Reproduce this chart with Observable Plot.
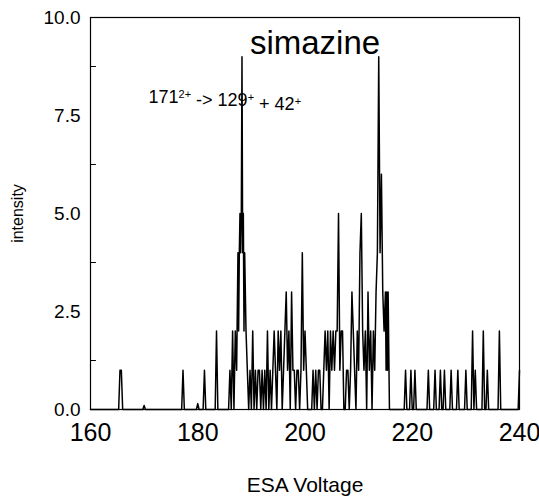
<!DOCTYPE html>
<html>
<head>
<meta charset="utf-8">
<script src="https://cdn.jsdelivr.net/npm/d3@7"></script>
<script src="https://cdn.jsdelivr.net/npm/@observablehq/plot@0.6"></script>
<style>
  html, body { margin: 0; padding: 0; background: #fff; }
</style>
</head>
<body>
<div id="chart"></div>
<script>
// ESA voltage (x) and intensity (y) samples
const voltage = [
  160, 165.25, 165.5, 165.75, 166.0, 169.75, 170.0, 170.25,
  177.0, 177.25, 177.5, 179.75, 180.0, 180.25, 181.0, 181.25, 181.5,
  183.25, 183.5, 183.75, 185.75,
  186.0, 186.25, 186.5, 186.75, 187.0, 187.25, 187.5, 187.625, 187.75, 187.875, 188.0, 188.125, 188.25, 188.375, 188.5, 188.625, 188.75,
  189.0, 189.25, 189.5, 189.75, 190.0, 190.25, 190.5, 190.75, 191.0, 191.25, 191.5, 191.75,
  192.0, 192.25, 192.5, 192.75, 193.0, 193.25, 193.5, 193.75, 194.0, 194.25, 194.5, 194.75,
  195.0, 195.25, 195.5, 195.75, 196.0, 196.25, 196.5, 196.75, 197.0, 197.25, 197.5, 197.75,
  198.0, 198.25, 198.5, 198.75, 199.0, 199.25, 199.5, 199.75, 200.0, 200.25, 200.5, 200.75,
  201.0, 201.25, 201.5, 201.75, 202.0, 202.25, 202.5, 202.75, 203.0, 203.25, 203.5, 203.75,
  204.0, 204.25, 204.5, 204.75, 205.0, 205.25, 205.5, 205.75, 206.0, 206.25, 206.5, 206.75,
  207.0, 207.25, 207.5, 207.75, 208.0, 208.25, 208.5, 208.75, 209.0, 209.25, 209.5, 209.75,
  210.0, 210.25, 210.5, 210.75, 211.0, 211.25, 211.5, 211.75, 212.0, 212.25, 212.5, 212.75,
  213.0, 213.25, 213.5, 213.75, 214.0, 214.25, 214.5, 214.75, 215.0, 215.125, 215.25, 215.375, 215.5, 215.75,
  218.5, 218.75, 219.0, 219.5, 219.75, 220.0, 220.25, 220.5, 220.75,
  222.75, 223.0, 223.25, 224.0, 224.25, 224.5, 225.0, 225.25, 225.5, 225.75, 226.0, 226.25,
  227.0, 227.25, 227.5, 228.25, 228.5, 228.75, 229.75, 230.0, 230.25,
  231.0, 231.25, 231.5, 231.75, 232.0, 233.0, 233.25, 233.5, 233.75, 234.0, 234.25,
  236.0, 236.25, 236.5, 239.75, 240.0
];
const intensity = [
  0, 0, 1, 1, 0, 0, 0.1, 0,
  0, 1, 0, 0, 0.15, 0, 0, 1, 0,
  0, 2, 0, 0,
  1, 0, 2, 0, 2, 1, 4, 2, 4, 5, 4, 5, 9, 4, 5, 2, 4,
  2, 1, 0, 1, 0, 2, 0, 1, 0, 1, 1, 0,
  1, 0, 1, 0, 2, 0, 1, 0, 1, 2, 1, 0,
  2, 1, 2, 0, 1, 2, 3, 1, 2, 0, 3, 1,
  1, 0, 1, 1, 0, 1, 4, 1, 2, 1, 0, 0,
  0, 0, 1, 0, 1, 0, 1, 1, 0, 0, 1, 2,
  1, 2, 0, 2, 1, 2, 1, 2, 2, 5, 1, 2,
  2, 0, 0, 1, 1, 0, 1, 3, 2, 1, 0, 2,
  1, 4, 5, 2, 1, 2, 0, 3, 1, 2, 0, 2,
  1, 3, 4, 9, 4, 6, 3, 2, 3, 1, 3, 1, 3, 0,
  0, 1, 0, 0, 1, 0, 0, 1, 0,
  0, 1, 0, 0, 1, 0, 0, 1, 0, 0, 1, 0,
  0, 1, 0, 0, 1, 0, 0, 1, 0,
  0, 2, 0, 1, 0, 0, 2, 0, 0, 1, 0,
  0, 2, 0, 0, 1
];
const xTicks = [160, 180, 200, 220, 240];
const yTicks = [0, 2.5, 5, 7.5, 10];
const yMinorTicks = [1.25, 3.75, 6.25, 8.75];
const title = "simazine";
const annotationParts = [["171", false], ["2+", true], [" -> 129", false], ["+", true], [" + 42", false], ["+", true]];
const annotation = annotationParts.map(d => d[0]).join("");

const data = voltage.map((v, i) => ({v, y: intensity[i]}));

const plot = Plot.plot({
  width: 539,
  height: 496,
  marginLeft: 90,
  marginRight: 20,
  marginTop: 17,
  marginBottom: 87,
  style: {fontFamily: "'Liberation Sans', Arial, Helvetica, sans-serif", background: "#fff", color: "#000"},
  x: {domain: [160, 240]},
  y: {domain: [0, 10]},
  marks: [
    Plot.lineY(data, {x: "v", y: "y", stroke: "#000", strokeWidth: 1.5}),
    Plot.frame({stroke: "#000", strokeWidth: 1.2}),
    Plot.ruleY(yMinorTicks, {x1: 160, x2: 161.1, stroke: "#000", strokeWidth: 1}),
    Plot.axisY({ticks: yTicks, tickSize: 0, tickPadding: 10, tickFormat: d3.format(".1f"), fontSize: 19, label: null}),
    Plot.axisX({ticks: xTicks, tickSize: 0, tickPadding: 14, fontSize: 25, label: null}),
    Plot.text(["intensity"], {frameAnchor: "left", dx: -73, rotate: -90, fontSize: 16, textAnchor: "middle", lineAnchor: "middle"}),
    Plot.text(["ESA Voltage"], {frameAnchor: "bottom", dy: 76, fontSize: 21, textAnchor: "middle", lineAnchor: "middle"}),
    Plot.text([title], {frameAnchor: "top", dx: 10, dy: 26, fontSize: 33, textAnchor: "middle", lineAnchor: "middle"}),
    Plot.text([annotation], {frameAnchor: "top-left", dx: 58, dy: 80, fontSize: 18, textAnchor: "start", lineAnchor: "middle"})
  ]
});

document.getElementById("chart").appendChild(plot);

// Render superscripts in the annotation as tspans
d3.select(plot).selectAll("text").filter(function() { return this.textContent === annotation; }).each(function() {
  const t = d3.select(this);
  t.text(null);
  let raised = false;
  for (const [s, sup] of annotationParts) {
    const ts = t.append("tspan").text(s);
    if (sup && !raised) { ts.attr("dy", "-0.45em").attr("font-size", "11"); raised = true; }
    else if (sup) { ts.attr("font-size", "11"); }
    else if (!sup && raised) { ts.attr("dy", "0.45em"); raised = false; }
  }
});
</script>
</body>
</html>
